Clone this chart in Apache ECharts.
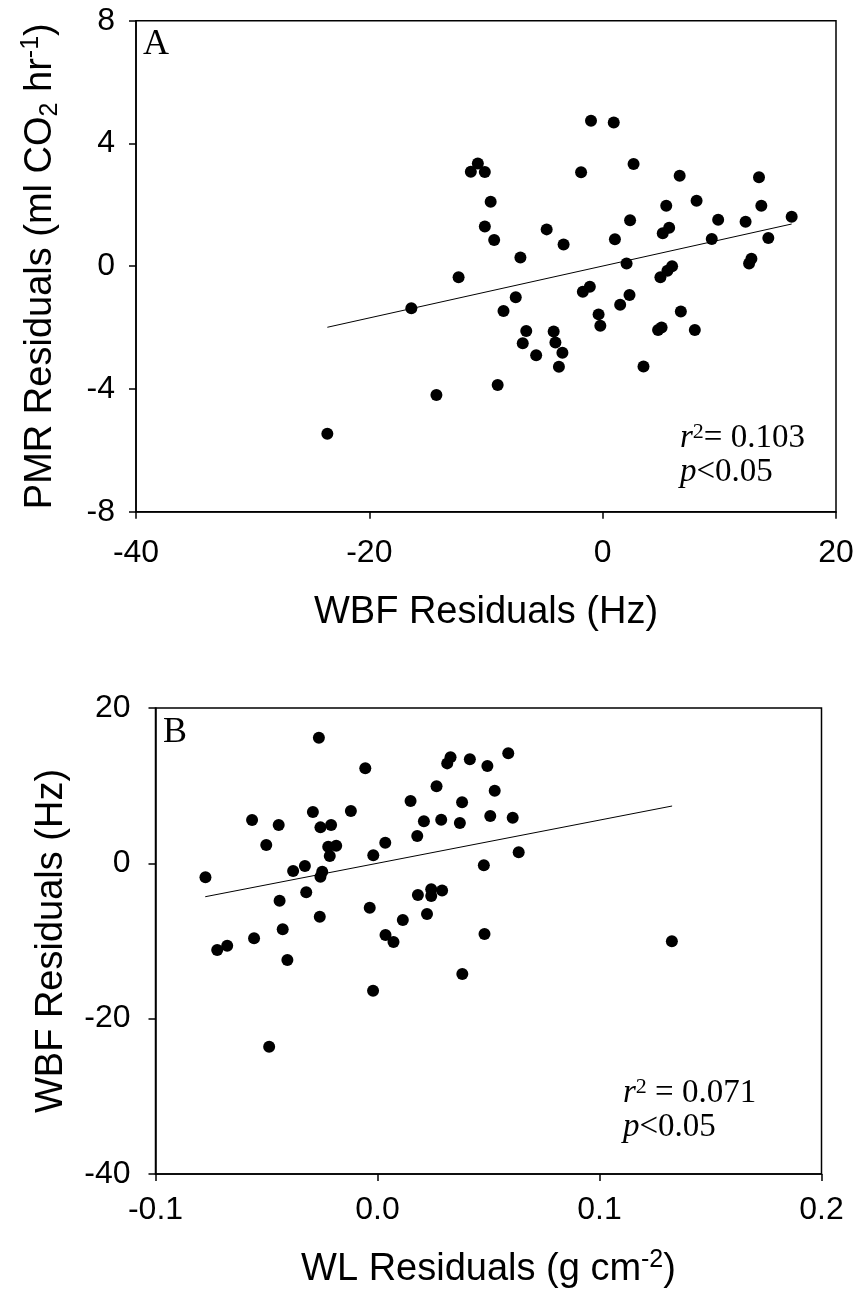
<!DOCTYPE html>
<html>
<head>
<meta charset="utf-8">
<script src="https://cdn.jsdelivr.net/npm/echarts@6/dist/echarts.min.js"></script>
<style>
html,body{margin:0;padding:0;background:#fff;}
#chart{width:860px;height:1301px;}
</style>
</head>
<body>
<div id="chart"></div>
<script>
// Panel A: WBF residuals (Hz) vs PMR residuals (ml CO2 hr-1)
const panelA_wbf = [-10.7,-11.3,-10.1,-9.6,-10.1,-9.3,-7.05,-4.8,-3.35,-1.0,0.95,-1.85,2.65,1.05,2.35,2.05,5.45,6.6,8.05,5.7,5.15,9.35,9.9,12.25,13.4,13.6,14.2,16.2,12.75,12.55,5.95,5.55,4.95,-7.45,-8.5,-1.7,-1.1,2.3,1.5,-0.35,-0.2,6.7,4.75,5.05,7.9,-6.55,-6.85,-4.2,-4.05,-3.45,-5.7,-3.75,3.5,-9.0,-12.35,-16.4,-14.25,-23.6];
const panelA_pmr = [3.35,3.08,3.07,2.1,1.29,0.85,0.28,1.2,0.71,4.74,4.68,3.06,3.33,0.88,1.5,0.09,1.97,2.95,2.13,1.25,1.07,0.89,1.51,1.45,2.9,1.97,0.92,1.61,0.24,0.09,0.0,-0.15,-0.36,-1.01,-1.46,-0.83,-0.67,-0.94,-1.26,-1.57,-1.94,-1.48,-2.08,-2.0,-2.08,-2.11,-2.51,-2.13,-2.49,-2.82,-2.9,-3.28,-3.27,-3.87,-0.36,-1.37,-4.2,-5.46];
const fitA_x = [-23.6, 16.2];
const fitA_y = [-1.99, 1.375];

// Panel B: WL residuals (g cm-2) vs WBF residuals (Hz)
const panelB_wl = [-0.0264,-0.0055,-0.0565,-0.0445,-0.0291,-0.012,-0.0257,-0.0209,-0.0501,-0.0222,-0.0186,-0.0215,0.0035,-0.0019,-0.0775,-0.038,-0.0327,-0.0249,-0.0257,-0.0321,-0.0441,-0.0035,-0.026,0.0114,0.0329,0.0314,0.0416,0.0495,0.0589,0.0266,0.0528,0.0149,0.0381,0.0209,0.0287,0.0371,0.0508,0.0609,0.0179,0.0636,0.0479,0.0182,0.0242,0.0242,0.0291,0.0223,-0.0722,-0.0677,-0.0556,-0.0427,-0.0406,0.0036,0.0072,0.0482,0.0382,-0.002,-0.0488,0.1326];
const panelB_wbf = [16.17,12.23,5.57,4.93,6.6,6.73,4.63,4.93,2.36,2.14,2.27,0.94,2.65,1.03,-1.8,-0.99,-0.35,-1.08,-1.72,-3.73,-4.82,-5.72,-6.87,-7.3,13.65,12.87,13.39,12.53,14.16,9.91,9.35,8.02,7.85,5.41,5.61,5.19,6.09,5.87,3.51,1.42,-0.26,-4.08,-3.35,-4.21,-3.49,-6.53,-11.16,-10.6,-9.66,-8.5,-12.45,-9.23,-10.13,-9.1,-14.25,-16.4,-23.63,-10.04];
const fitB_x = [-0.0776, 0.1327];
const fitB_y = [-4.3, 7.38];

// Tick settings
const axA_x = {min:-40, max:20, interval:20};
const axA_y = {min:-8, max:8, interval:4};
const axB_x = {min:-0.1, max:0.2, interval:0.1};
const axB_y = {min:-40, max:20, interval:20};

const statsA = ['0.103', '0.05'];
const statsB = ['0.071', '0.05'];

const SANS = "'Liberation Sans', Arial, sans-serif";
const SERIF = "'Liberation Serif', 'Times New Roman', serif";

function zip(a, b){ return a.map((v,i)=>[v, b[i]]); }

const lineStyleAx = {color:'#000', width:1.5};
function xAx(grid, ax, name, gap, margin, fmt){
  const o = {
    gridIndex:grid, type:'value', min:ax.min, max:ax.max, interval:ax.interval,
    axisLine:{show:true, onZero:false, lineStyle:lineStyleAx},
    axisTick:{show:true, inside:false, length:7, lineStyle:lineStyleAx},
    splitLine:{show:false},
    axisLabel:{color:'#000', fontSize:32, fontFamily:SANS, margin:margin},
    name:name, nameLocation:'middle', nameGap:gap,
    nameTextStyle:{color:'#000', fontSize:38, fontFamily:SANS, lineHeight:44,
      rich:{
        n:{fontSize:38, fontFamily:SANS, color:'#000', lineHeight:44},
        sup:{fontSize:25, fontFamily:SANS, color:'#000', lineHeight:22, verticalAlign:'top'},
        sub:{fontSize:25, fontFamily:SANS, color:'#000', lineHeight:22, verticalAlign:'bottom'}
      }}
  };
  if (fmt) o.axisLabel.formatter = fmt;
  return o;
}

const richStats = {
  i:{fontSize:33, fontFamily:SERIF, fontStyle:'italic', lineHeight:34, color:'#000'},
  n:{fontSize:33, fontFamily:SERIF, lineHeight:34, color:'#000'},
  sup:{fontSize:22, fontFamily:SERIF, lineHeight:18, verticalAlign:'top', color:'#000'}
};

const option = {
  animation:false,
  backgroundColor:'#fff',
  grid:[
    {left:136, top:20.7, width:700, height:491, show:true, borderColor:'#000', borderWidth:1.5, backgroundColor:'transparent'},
    {left:155.5, top:708, width:666, height:466, show:true, borderColor:'#000', borderWidth:1.5, backgroundColor:'transparent'}
  ],
  xAxis:[
    xAx(0, axA_x, 'WBF Residuals (Hz)', 79, 25),
    xAx(1, axB_x, '{n|WL Residuals (g cm}{sup|-2}{n|)}', 74, 20, v => v.toFixed(1))
  ],
  yAxis:[
    xAx(0, axA_y, '{n|PMR Residuals (ml CO}{sub|2}{n| hr}{sup|-1}{n|)}', 73, 21),
    xAx(1, axB_y, 'WBF Residuals (Hz)', 81, 25)
  ],
  series:[
    {type:'scatter', xAxisIndex:0, yAxisIndex:0, data:zip(panelA_wbf, panelA_pmr), symbol:'circle', symbolSize:12, itemStyle:{color:'#000', opacity:1}, z:3},
    {type:'line', xAxisIndex:0, yAxisIndex:0, data:zip(fitA_x, fitA_y), symbol:'none', lineStyle:{color:'#000', width:1}, z:2},
    {type:'scatter', xAxisIndex:1, yAxisIndex:1, data:zip(panelB_wl, panelB_wbf), symbol:'circle', symbolSize:12, itemStyle:{color:'#000', opacity:1}, z:3},
    {type:'line', xAxisIndex:1, yAxisIndex:1, data:zip(fitB_x, fitB_y), symbol:'none', lineStyle:{color:'#000', width:1}, z:2}
  ],
  graphic:[
    {type:'text', x:143, y:45, style:{text:'A', fontSize:36, fontFamily:SERIF, fill:'#000', verticalAlign:'middle', align:'left'}},
    {type:'text', x:163, y:733, style:{text:'B', fontSize:36, fontFamily:SERIF, fill:'#000', verticalAlign:'middle', align:'left'}},
    {type:'text', x:680, y:438, style:{text:'{i|r}{sup|2}{n|= ' + statsA[0] + '}', verticalAlign:'middle', align:'left', rich:richStats}},
    {type:'text', x:680, y:472, style:{text:'{i|p}{n|<' + statsA[1] + '}', verticalAlign:'middle', align:'left', rich:richStats}},
    {type:'text', x:623, y:1093, style:{text:'{i|r}{sup|2}{n| = ' + statsB[0] + '}', verticalAlign:'middle', align:'left', rich:richStats}},
    {type:'text', x:623, y:1127, style:{text:'{i|p}{n|<' + statsB[1] + '}', verticalAlign:'middle', align:'left', rich:richStats}}
  ]
};

const chart = echarts.init(document.getElementById('chart'), null, {renderer:'canvas'});
chart.setOption(option);
</script>
</body>
</html>
